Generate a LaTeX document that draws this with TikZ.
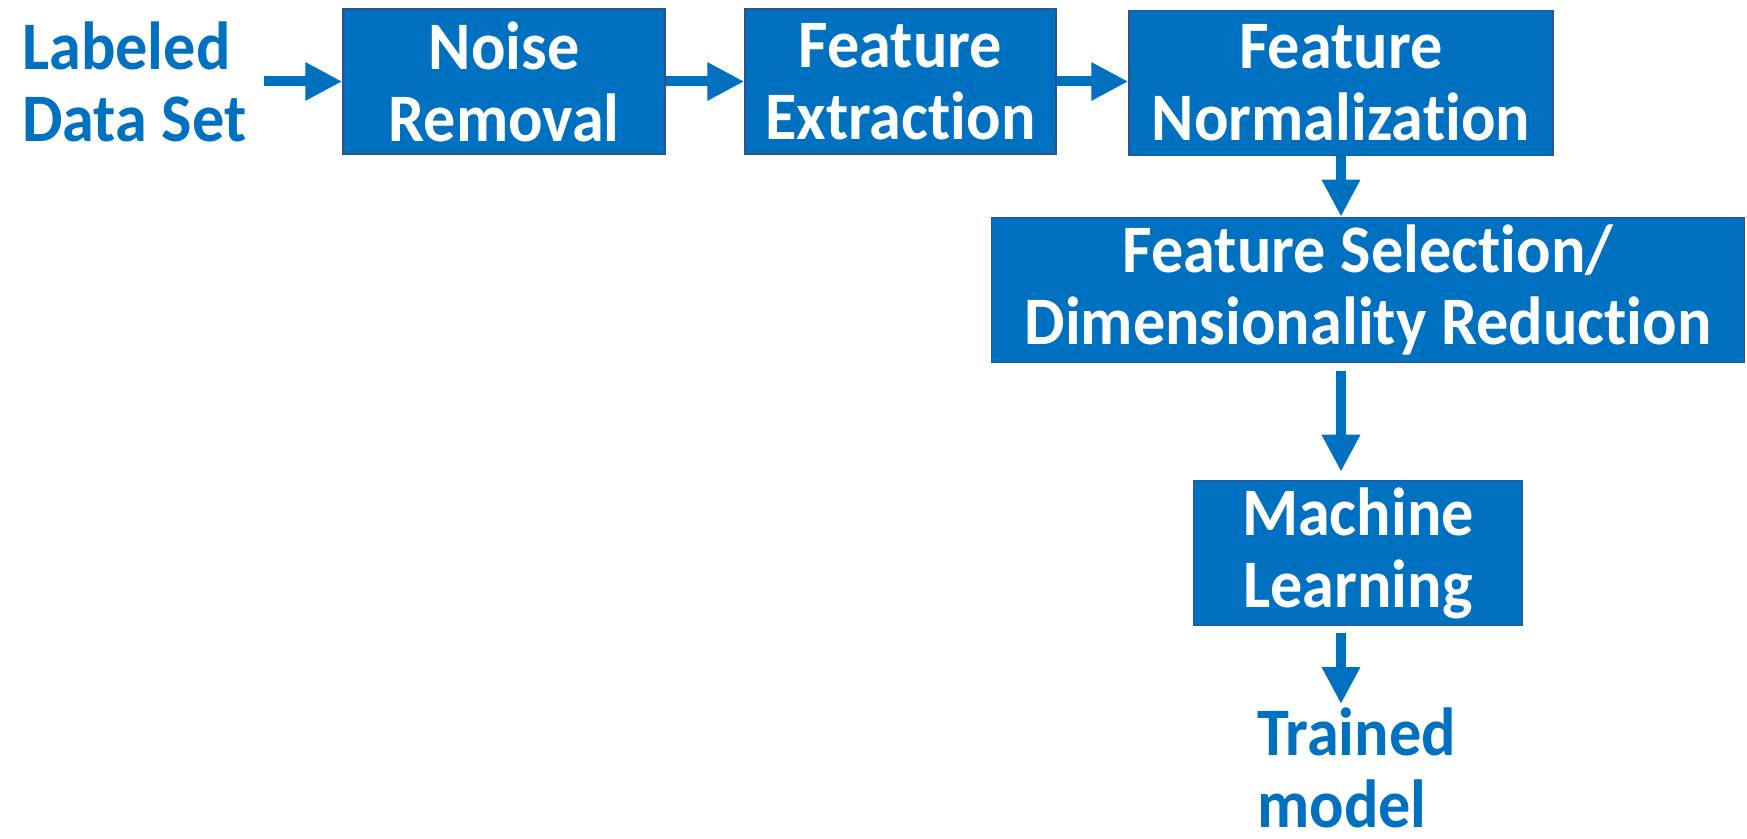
\documentclass[tikz,border=0pt]{standalone}
\usepackage{fontspec}
\setmainfont{Carlito}[FakeStretch=0.945, Ligatures=NoCommon]
\usetikzlibrary{arrows.meta}
\definecolor{boxblue}{HTML}{0070C0}
\definecolor{edgeblue}{HTML}{2F528F}
\tikzset{
  stage/.style={draw=edgeblue, line width=1.5pt, fill=boxblue, text=white,
    align=center, minimum height=145pt, inner sep=0pt,
    font=\fontsize{68}{72}\selectfont\bfseries},
  plain/.style={text=boxblue, align=left, inner sep=0pt,
    font=\fontsize{68}{72}\selectfont\bfseries},
  flow/.style={draw=boxblue, line width=10pt,
    -{Triangle[length=37pt,width=36pt]}}
}
\begin{document}
\begin{tikzpicture}[x=1pt,y=1pt]
\useasboundingbox (0,0) rectangle (1747,838);

% blue captions: anchored on the baseline of their last line
\node[plain, anchor=base west] (lab) at (22,696.5) {Labeled\\Data Set};
\node[stage, minimum width=322pt] (noise) at (504,756.5) {Noise\\Removal};
\node[stage, minimum width=311pt] (ext) at (900.5,756.5) {Feature\\Extraction};
\node[stage, minimum width=424pt] (norm) at (1341,755) {Feature\\Normalization};
\node[stage, minimum width=753pt] (sel) at (1368,548) {Feature Selection/\\Dimensionality Reduction};
\node[stage, minimum width=329pt] (ml) at (1358,285) {Machine\\Learning};
\node[plain, anchor=base west] (trained) at (1257,11) {Trained\\model};

\draw[flow, shorten <=18pt] (lab.east |- noise.west) -- (noise.west);
\draw[flow] (noise.east) -- (ext.west);
\draw[flow] (ext.east) -- (ext.east -| norm.west);
\draw[flow] (norm.south) -- (sel.north -| norm.south);
\draw[flow, shorten <=8pt, shorten >=8pt] (sel.south -| norm.south) -- (ml.north -| norm.south);
\draw[flow, shorten <=7pt, shorten >=3pt] (ml.south -| norm.south) -- (trained.north -| norm.south);
\end{tikzpicture}
\end{document}
